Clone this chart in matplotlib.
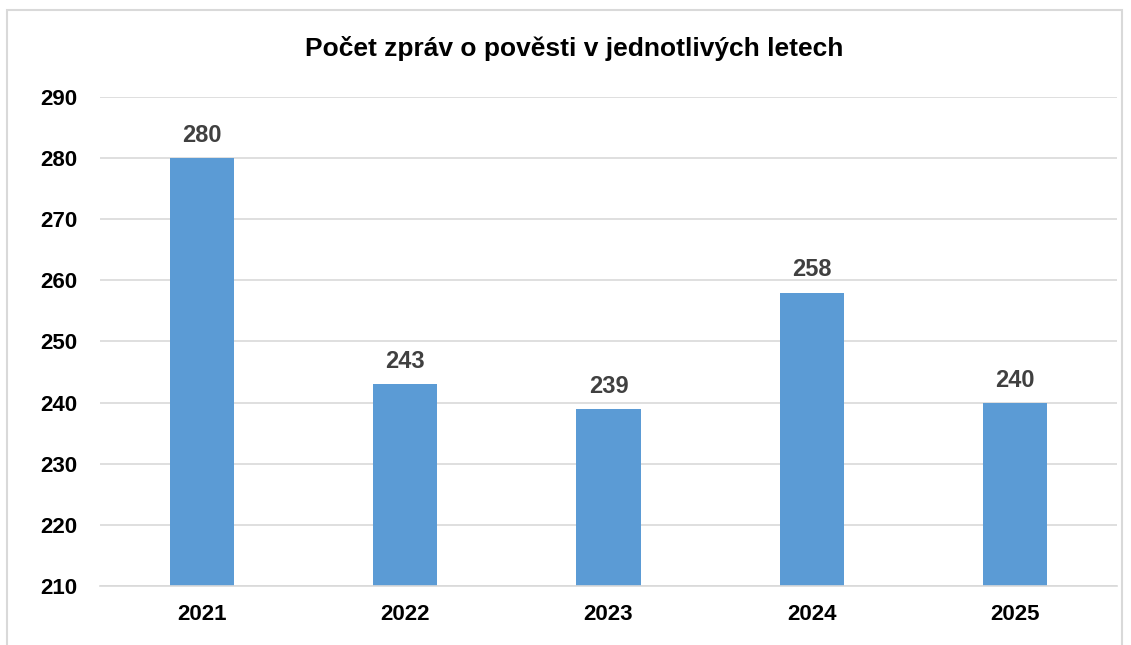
import matplotlib.pyplot as plt
from matplotlib.patches import Rectangle

# data
years = ['2021', '2022', '2023', '2024', '2025']
counts = [280, 243, 239, 258, 240]

title = 'Počet zpráv o pověsti v jednotlivých letech'
bar_color = '#5B9BD5'
grid_color = '#D9D9D9'

plt.rcParams['font.family'] = ['Liberation Sans', 'DejaVu Sans']
plt.rcParams['font.weight'] = 'bold'

fig = plt.figure(figsize=(11.31, 6.45), dpi=100)
ax = fig.add_axes([0.0884, 0.0915, 0.8992, 0.7581])

x = range(len(years))
bars = ax.bar(x, counts, width=0.315, color=bar_color, zorder=2)

ax.set_ylim(210, 290)
ax.set_yticks(range(210, 291, 10))
ax.set_xlim(-0.5, len(years) - 0.5)
ax.set_xticks(list(x))
ax.set_xticklabels(years)

ax.grid(axis='y', color=grid_color, linewidth=1.2, zorder=0)
for s in ['top', 'right', 'left']:
    ax.spines[s].set_visible(False)
ax.spines['bottom'].set_color(grid_color)
ax.spines['bottom'].set_linewidth(1.2)
ax.tick_params(axis='both', length=0, labelsize=16)
ax.tick_params(axis='y', pad=16)
ax.tick_params(axis='x', pad=13)
for lbl in ax.get_xticklabels() + ax.get_yticklabels():
    lbl.set_fontweight('bold')

for b, v in zip(bars, counts):
    ax.annotate(str(v), (b.get_x() + b.get_width() / 2, v),
                xytext=(0, 8), textcoords='offset points',
                ha='center', va='bottom', fontsize=17,
                fontweight='bold', color='#404040')

fig.text(0.508, 0.925, title, ha='center', va='center',
         fontsize=19, fontweight='bold')

# ramecek grafu
fig.patches.append(Rectangle((7 / 1131, -0.1), 1115 / 1131, 1 - 10 / 645 + 0.1,
                             transform=fig.transFigure, fill=False,
                             edgecolor='#D9D9D9', linewidth=1.5))

plt.savefig('out.png', dpi=100)
